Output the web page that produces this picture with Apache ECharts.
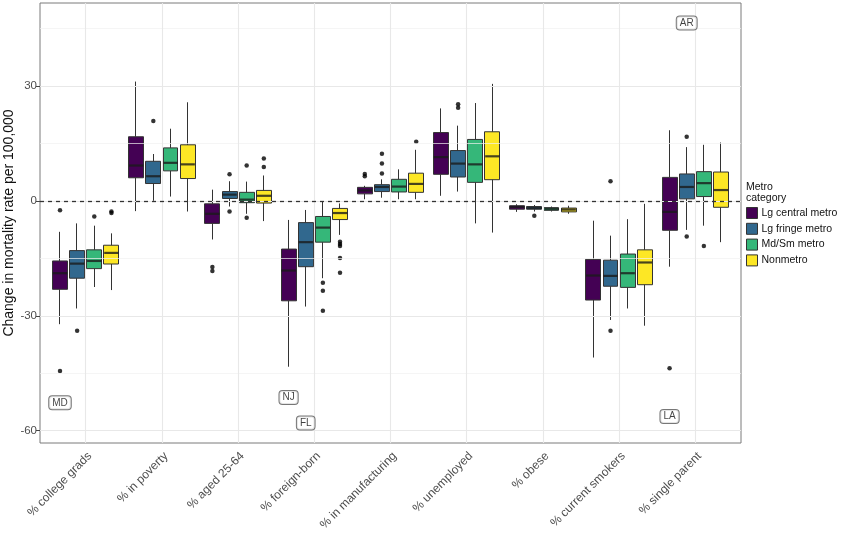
<!DOCTYPE html>
<html>
<head>
<meta charset="utf-8">
<script src="https://cdn.jsdelivr.net/npm/echarts@6/dist/echarts.min.js"></script>
<style>html,body{margin:0;padding:0;background:#fff}#c{width:842px;height:533px}</style>
</head>
<body>
<div id="c"></div>
<script>
// ---------- data ----------
const categories = ['% college grads','% in poverty','% aged 25-64','% foreign-born','% in manufacturing','% unemployed','% obese','% current smokers','% single parent'];
const metroNames = ['Lg central metro','Lg fringe metro','Md/Sm metro','Nonmetro'];
const metroColors = ['#440154','#31688E','#35B779','#FDE725'];
const yTicks = [-60,-30,0,30];

// [min, Q1, median, Q3, max]
const lgCentral = [
  [-32.2,-23.1,-18.9,-15.7,-8.1],
  [-2.7,6.0,9.2,16.7,31.1],
  [-10.1,-5.9,-3.4,-0.8,2.9],
  [-43.3,-26.1,-18.2,-12.6,-5.0],
  [0.4,1.8,2.7,3.5,3.9],
  [1.3,6.9,11.4,17.8,24.1],
  [-2.9,-2.2,-1.6,-1.3,-0.9],
  [-40.9,-25.9,-19.5,-15.3,-5.2],
  [-17.2,-7.7,-2.9,6.1,18.4]
];
const lgFringe = [
  [-28.1,-20.2,-16.4,-13.0,-5.9],
  [0.0,4.5,6.4,10.3,12.2],
  [-1.5,0.6,1.6,2.4,5.1],
  [-27.6,-17.2,-10.8,-5.7,-2.4],
  [0.8,2.4,3.6,4.2,5.6],
  [2.4,6.2,9.7,13.1,19.6],
  [-2.8,-2.2,-1.9,-1.5,-1.1],
  [-31.1,-22.3,-19.6,-15.5,-9.1],
  [-7.6,0.5,3.6,7.0,14.0]
];
const mdSm = [
  [-22.5,-17.7,-15.7,-12.8,-6.5],
  [1.1,7.8,9.9,13.8,18.8],
  [-3.4,-0.5,0.3,2.2,5.0],
  [-20.2,-10.8,-7.0,-4.1,-0.2],
  [0.4,2.3,3.7,5.6,8.2],
  [-5.9,4.8,9.5,16.0,25.5],
  [-2.8,-2.5,-2.1,-1.8,-1.5],
  [-28.1,-22.6,-18.9,-13.9,-4.8],
  [-6.5,1.1,4.6,7.6,14.6]
];
const nonmetro = [
  [-23.3,-16.5,-13.6,-11.6,-8.5],
  [-2.8,5.8,9.5,14.6,25.7],
  [-5.3,-0.6,1.3,2.7,6.6],
  [-8.9,-4.9,-3.2,-2.0,-0.7],
  [0.4,2.2,4.4,7.2,13.3],
  [-8.3,5.5,11.6,18.0,30.5],
  [-3.4,-2.9,-2.3,-1.9,-1.3],
  [-32.6,-21.9,-16.1,-12.8,-0.8],
  [-10.8,-1.7,2.8,7.5,15.2]
];
// outliers: [category index, value]
const outCentral = [[0,-2.5],[0,-44.4],[2,-17.3],[2,-18.3],[4,7.0],[4,6.4],[8,-43.7]];
const outFringe = [[0,-33.9],[1,20.8],[2,6.9],[2,-2.8],[4,12.3],[4,9.7],[4,7.1],[5,25.2],[5,24.3],[6,-3.9],[7,5.1],[7,-33.9],[8,16.7],[8,-9.3]];
const outMdSm = [[0,-4.1],[2,9.2],[2,-4.4],[3,-21.4],[3,-23.5],[3,-28.7],[8,-11.8]];
const outNonmetro = [[0,-2.8],[0,-3.2],[2,11.0],[2,8.8],[3,-10.7],[3,-11.3],[3,-11.8],[3,-14.9],[3,-18.8],[4,15.4]];
// state labels: [category index, value, text]
const labCentral = [[0,-52.7,'MD'],[3,-51.3,'NJ'],[8,-56.3,'LA']];
const labFringe = [[3,-58.0,'FL'],[8,46.4,'AR']];

const boxData = [lgCentral, lgFringe, mdSm, nonmetro];
const outData = [outCentral, outFringe, outMdSm, outNonmetro];
const labData = [labCentral, labFringe, [], []];

// ---------- layout ----------
const Y_MIN = -63.2, Y_MAX = 51.6;
const P_LEFT = 40, P_TOP = 3, P_W = 701, P_H = 440;
const UNIT = P_W / 9.2;                 // one category step
const C_LEFT = P_LEFT + 0.1 * UNIT;     // category band grid
const C_W = 9 * UNIT;
const SLOT = 0.9 * UNIT / 4;
const offsets = [-1.5 * SLOT, -0.5 * SLOT, 0.5 * SLOT, 1.5 * SLOT];
const BOXW = SLOT * 0.9;
const FONT = 'Liberation Sans, Arial';

const grids = [{left: P_LEFT, top: P_TOP, width: P_W, height: P_H, show: true, borderColor: '#7a7a7a', borderWidth: 1,
  backgroundColor: '#fff', containLabel: false, outerBoundsMode: 'none'}];
const xAxes = [{
  type: 'value', gridIndex: 0, min: 0.4, max: 9.6,
  axisLine: {show: false}, splitLine: {show: false},
  axisTick: {show: true, customValues: [1,2,3,4,5,6,7,8,9], length: 4, lineStyle: {color: '#444'}},
  axisLabel: {show: true, customValues: [1,2,3,4,5,6,7,8,9], formatter: v => categories[Math.round(v) - 1],
    rotate: 45, align: 'right', verticalAlign: 'top', margin: 7, fontSize: 12, color: '#4d4d4d', fontFamily: FONT}
}];
const yAxes = [{
  type: 'value', gridIndex: 0, min: Y_MIN, max: Y_MAX,
  axisLine: {show: false}, splitLine: {show: false},
  axisTick: {show: true, customValues: yTicks, length: 4, lineStyle: {color: '#444'}},
  axisLabel: {show: true, customValues: yTicks, margin: 3, fontSize: 11.5, color: '#4d4d4d', fontFamily: FONT},
  name: 'Change in mortality rate per 100,000', nameLocation: 'middle', nameGap: 24, nameMoveOverlap: false,
  nameTextStyle: {fontSize: 14, color: '#111', fontFamily: FONT}
}];
for (let k = 0; k < 4; k++) {
  grids.push({left: C_LEFT + offsets[k], top: P_TOP, width: C_W, height: P_H, containLabel: false, outerBoundsMode: 'none'});
  xAxes.push({type: 'category', gridIndex: k + 1, data: categories, show: false, boundaryGap: true});
  yAxes.push({type: 'value', gridIndex: k + 1, min: Y_MIN, max: Y_MAX, show: false, splitLine: {show: false}});
}

const series = [];
// grid lines
const gl = [];
[-60,-30,0,30].forEach(v => gl.push({yAxis: v, lineStyle: {color: '#e8e8e8', width: 1.1, type: 'solid'}}));
[-45,-15,15,45].forEach(v => gl.push({yAxis: v, lineStyle: {color: '#f1f1f1', width: 0.7, type: 'solid'}}));
[1,2,3,4,5,6,7,8,9].forEach(v => gl.push({xAxis: v, lineStyle: {color: '#e8e8e8', width: 1.1, type: 'solid'}}));
series.push({type: 'line', xAxisIndex: 0, yAxisIndex: 0, data: [], z: 0, silent: true,
  markLine: {silent: true, symbol: ['none','none'], label: {show: false}, animation: false, data: gl}});

for (let k = 0; k < 4; k++) {
  // box (Q1..Q3) with whiskers (min..max), no whisker caps: candlestick [open, close, lowest, highest]
  series.push({
    name: metroNames[k], type: 'candlestick', xAxisIndex: k + 1, yAxisIndex: k + 1,
    data: boxData[k].map(d => [d[1], d[3], d[0], d[4]]), barWidth: BOXW, z: 3, silent: true,
    itemStyle: {color: metroColors[k], color0: metroColors[k], borderColor: '#333', borderColor0: '#333', borderWidth: 1},
    emphasis: {disabled: true}
  });
  // median line
  series.push({
    type: 'scatter', xAxisIndex: k + 1, yAxisIndex: k + 1, z: 4, silent: true,
    data: boxData[k].map((d, i) => [i, d[2]]),
    symbol: 'rect', symbolSize: [BOXW - 1, 2.2], itemStyle: {color: '#1a1a1a'}
  });
  // outliers
  series.push({
    type: 'scatter', xAxisIndex: k + 1, yAxisIndex: k + 1, z: 4, silent: true,
    data: outData[k], symbolSize: 4.5, itemStyle: {color: '#000'}
  });
  if (labData[k].length) {
    series.push({
      type: 'scatter', xAxisIndex: k + 1, yAxisIndex: k + 1, z: 6, silent: true,
      data: labData[k].map(d => ({value: [d[0], d[1]], name: d[2]})),
      symbolSize: 1, itemStyle: {color: 'rgba(0,0,0,0)'},
      label: {show: true, position: 'inside', formatter: p => p.name, fontSize: 10, color: '#111',
        backgroundColor: '#fff', borderColor: '#555', borderWidth: 1, borderRadius: 3, padding: [2, 3, 1, 3],
        fontFamily: FONT}
    });
  }
}
// zero reference line
series.push({type: 'line', xAxisIndex: 0, yAxisIndex: 0, data: [], z: 8, silent: true,
  markLine: {silent: true, symbol: ['none','none'], label: {show: false}, animation: false,
    data: [{yAxis: 0, lineStyle: {color: '#333', width: 1.3, type: [4, 4]}}]}});

const option = {
  animation: false,
  backgroundColor: '#fff',
  textStyle: {fontFamily: FONT},
  title: {text: 'Metro\ncategory', left: 746, top: 181, padding: 0,
    textStyle: {fontSize: 10.5, fontWeight: 'normal', color: '#111', lineHeight: 11.5, fontFamily: FONT}},
  legend: {
    data: metroNames.map((n, k) => ({name: n, icon: 'rect', itemStyle: {color: metroColors[k], borderColor: '#333', borderWidth: 1}})),
    orient: 'vertical', left: 746, top: 207, itemWidth: 11, itemHeight: 11, itemGap: 3.8,
    selectedMode: false, padding: 0,
    textStyle: {fontSize: 10.5, color: '#111', fontFamily: FONT, padding: [0, 0, 0, -1]}
  },
  grid: grids, xAxis: xAxes, yAxis: yAxes, series: series
};
const chart = echarts.init(document.getElementById('c'), null, {renderer: 'canvas'});
chart.setOption(option);
</script>
</body>
</html>
